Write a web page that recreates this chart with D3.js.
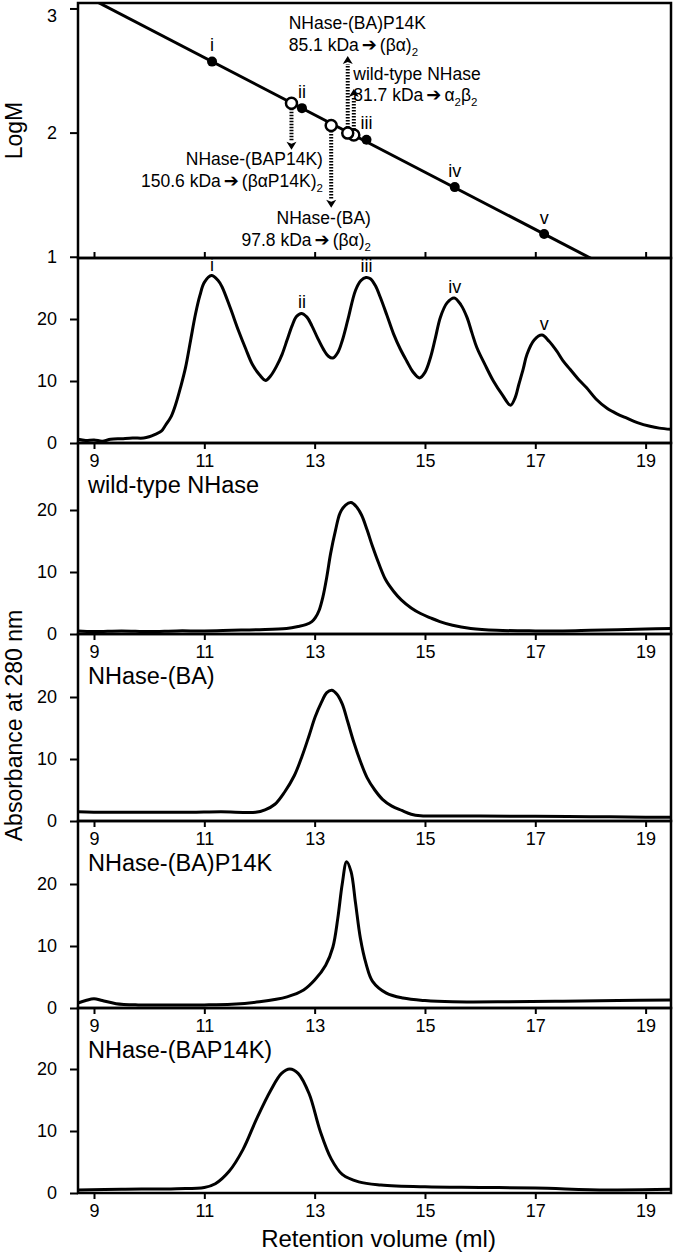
<!DOCTYPE html>
<html>
<head>
<meta charset="utf-8">
<script src="https://cdn.jsdelivr.net/npm/d3@7"></script>
<style>
  body { margin: 0; background: #fff; }
  svg { display: block; }
  text { font-family: "Liberation Sans", Arial, sans-serif; fill: #000; }
</style>
</head>
<body>
<svg id="chart" width="675" height="1256"></svg>
<script>
// ---- data ----
const xTicks = [9, 11, 13, 15, 17, 19];
const logMTicks = [1, 2, 3];
const absTicks = [0, 10, 20];

const standardNames = ["i", "ii", "iii", "iv", "v"];
const standardMl = [11.14, 12.77, 13.94, 15.54, 17.16];
const standardLogM = [2.572, 2.197, 1.942, 1.561, 1.183];
const standardPeakAbs = [27.0, 20.9, 26.7, 23.4, 17.4];

// calibration line end points
const fitMl = [9.0, 18.1];
const fitLogM = [3.066, 0.966];

// samples: BAP14K, BA, BA-P14K, wild-type
const sampleMl = [12.58, 13.30, 13.60, 13.71];
const sampleLogM = [2.237, 2.057, 1.996, 1.980];
const arrowTipLogM = [1.861, 1.394, 2.618, 2.352];

const panelNames = ["wild-type NHase", "NHase-(BA)", "NHase-(BA)P14K", "NHase-(BAP14K)"];

const standardsTrace = [[8.71,0.6],[8.85,0.4],[9.0,0.5],[9.15,0.3],[9.3,0.6],[9.5,0.7],[9.7,0.8],[9.9,0.8],[10.0,1.0],[10.11,1.4],[10.22,1.9],[10.3,2.9],[10.4,4.3],[10.48,6.2],[10.57,9.0],[10.66,12.2],[10.75,16.5],[10.84,20.8],[10.92,23.8],[11.0,25.9],[11.13,27.0],[11.25,26.2],[11.32,25.2],[11.47,21.8],[11.62,18.1],[11.75,15.2],[11.87,12.7],[12.0,11.0],[12.11,10.1],[12.2,10.8],[12.31,12.4],[12.41,14.3],[12.5,16.6],[12.59,18.9],[12.67,20.4],[12.76,20.9],[12.86,20.3],[12.95,18.9],[13.05,17.0],[13.16,15.1],[13.25,14.0],[13.33,13.7],[13.42,14.6],[13.5,16.5],[13.6,19.8],[13.74,24.6],[13.84,26.2],[13.93,26.7],[14.01,26.5],[14.1,25.4],[14.19,23.5],[14.31,20.6],[14.43,17.6],[14.55,15.2],[14.67,13.2],[14.78,11.5],[14.9,10.5],[15.0,11.4],[15.1,13.8],[15.19,17.0],[15.28,20.3],[15.4,22.6],[15.53,23.4],[15.65,22.3],[15.76,20.3],[15.85,17.8],[15.94,15.4],[16.09,12.6],[16.24,10.0],[16.4,7.8],[16.55,6.1],[16.63,7.2],[16.7,9.4],[16.78,11.9],[16.85,14.3],[16.98,16.6],[17.12,17.4],[17.25,16.4],[17.39,14.8],[17.5,13.3],[17.63,11.9],[17.78,10.3],[17.93,8.9],[18.1,7.1],[18.3,5.6],[18.48,4.7],[18.66,4.0],[18.85,3.3],[19.08,2.7],[19.25,2.4],[19.46,2.2]];

const wildTypeTrace = [[8.71,0.5],[9.0,0.4],[9.5,0.5],[10.0,0.4],[10.5,0.5],[11.0,0.5],[11.5,0.6],[12.0,0.7],[12.49,0.9],[12.7,1.2],[12.84,1.5],[12.95,2.0],[13.01,2.6],[13.08,3.8],[13.15,6.0],[13.22,9.2],[13.29,13.0],[13.38,16.8],[13.46,19.5],[13.56,20.8],[13.66,21.2],[13.75,20.6],[13.85,19.2],[13.95,16.8],[14.05,14.1],[14.17,11.2],[14.29,8.7],[14.43,6.9],[14.57,5.5],[14.75,4.2],[14.92,3.3],[15.1,2.6],[15.27,2.0],[15.5,1.4],[15.83,0.9],[16.3,0.6],[17.0,0.5],[17.5,0.5],[18.0,0.6],[18.5,0.7],[19.0,0.8],[19.46,0.9]];

const baTrace = [[8.71,1.5],[9.2,1.4],[9.7,1.4],[10.2,1.4],[10.75,1.4],[11.3,1.5],[11.93,1.4],[12.1,1.8],[12.28,2.7],[12.45,4.6],[12.63,7.3],[12.77,10.4],[12.9,13.8],[13.01,16.8],[13.12,19.1],[13.22,20.7],[13.31,21.1],[13.4,20.5],[13.5,18.9],[13.6,16.0],[13.71,12.7],[13.83,9.6],[13.95,7.0],[14.09,5.0],[14.23,3.5],[14.4,2.4],[14.58,1.7],[14.75,1.1],[14.92,0.85],[15.5,0.8],[16.0,0.8],[17.0,0.75],[18.0,0.7],[19.0,0.6],[19.46,0.6]];

const baP14kTrace = [[8.71,0.8],[8.85,1.2],[9.0,1.5],[9.15,1.2],[9.4,0.7],[9.8,0.5],[10.5,0.5],[11.0,0.5],[11.5,0.6],[12.0,1.0],[12.5,1.8],[12.8,2.9],[13.0,4.5],[13.2,6.9],[13.33,9.8],[13.42,14.5],[13.5,20.0],[13.58,23.6],[13.66,22.0],[13.74,17.0],[13.83,11.2],[13.93,7.2],[14.05,4.3],[14.3,2.4],[14.6,1.6],[15.0,1.2],[15.5,1.0],[16.5,1.0],[17.5,1.1],[18.5,1.2],[19.46,1.3]];

const bap14kTrace = [[8.71,0.5],[9.5,0.6],[10.5,0.7],[11.0,0.9],[11.2,1.5],[11.45,3.5],[11.7,7.0],[11.95,12.0],[12.2,16.5],[12.4,19.3],[12.55,20.0],[12.7,19.3],[12.9,16.0],[13.1,10.0],[13.3,5.5],[13.5,3.0],[13.8,1.8],[14.2,1.3],[15.0,1.0],[16.0,0.9],[17.0,0.8],[18.3,0.5],[19.46,0.6]];

// ---- layout ----
const svg = d3.select("#chart");
const left = 78, right = 671;
const edges = [3, 258, 443, 634, 821, 1008, 1193];
const pxPerAbs = 6.2;

const x = d3.scaleLinear().domain([8.71, 19.46]).range([left, right]);
const yLog = d3.scaleLinear().domain([0.99, 3.044]).range([edges[1], edges[0]]);

const styleAxis = g => {
    g.select(".domain").remove();
    g.selectAll(".tick line").attr("stroke", "#000").attr("stroke-width", 2);
    g.selectAll(".tick text").style("font-size", "18px").attr("fill", "#000")
        .style("font-family", '"Liberation Sans", Arial, sans-serif');
};

const frame = (top, bottom) => {
    svg.append("rect")
        .attr("x", left).attr("y", top)
        .attr("width", right - left).attr("height", bottom - top)
        .attr("fill", "none").attr("stroke", "#000").attr("stroke-width", 2.5);
};

// ---- top panel: LogM calibration ----
svg.append("defs").append("clipPath").attr("id", "topClip")
    .append("rect").attr("x", left).attr("y", edges[0])
    .attr("width", right - left).attr("height", edges[1] - edges[0]);

const logAxis = svg.append("g").attr("transform", `translate(${left},0)`)
    .call(d3.axisLeft(yLog).tickValues(logMTicks).tickSize(8).tickPadding(13).tickFormat(d3.format("d")))
    .call(styleAxis);
// the top label sits a little under its tick, as in the figure
logAxis.selectAll(".tick").filter(d => d === 3).select("text").attr("dy", "0.72em");

svg.append("g").attr("transform", `translate(0,${edges[1]})`)
    .call(d3.axisBottom(x).tickValues(xTicks).tickSize(-6).tickFormat(""))
    .call(styleAxis);

svg.append("line").attr("clip-path", "url(#topClip)")
    .attr("x1", x(fitMl[0])).attr("y1", yLog(fitLogM[0]))
    .attr("x2", x(fitMl[1])).attr("y2", yLog(fitLogM[1]))
    .attr("stroke", "#000").attr("stroke-width", 3);

const rOpen = 5.5;
sampleMl.forEach((ml, i) => {
    const down = arrowTipLogM[i] < sampleLogM[i];
    const y0 = yLog(sampleLogM[i]) + (down ? rOpen : -rOpen);
    const y1 = yLog(arrowTipLogM[i]) + (down ? -8 : 8);
    svg.append("line")
        .attr("x1", x(ml)).attr("x2", x(ml)).attr("y1", y0).attr("y2", y1)
        .attr("stroke", "#000").attr("stroke-width", 4).attr("stroke-dasharray", "1.5,1.5");
    svg.append("path")
        .attr("d", d3.line()([[x(ml) - 5, y1], [x(ml), yLog(arrowTipLogM[i])], [x(ml) + 5, y1], [x(ml), y1 + (down ? 2 : -2)]]) + "Z")
        .attr("fill", "#000");
});

svg.selectAll(".sample")
    .data(sampleMl.map((ml, i) => ({ ml, logM: sampleLogM[i] })).reverse())
    .enter().append("circle")
    .attr("cx", d => x(d.ml)).attr("cy", d => yLog(d.logM)).attr("r", rOpen)
    .attr("fill", "#fff").attr("stroke", "#000").attr("stroke-width", 2.5);

svg.selectAll(".std")
    .data(standardMl.map((ml, i) => ({ ml, logM: standardLogM[i], name: standardNames[i] })))
    .enter().append("circle")
    .attr("cx", d => x(d.ml)).attr("cy", d => yLog(d.logM)).attr("r", 5).attr("fill", "#000");

svg.selectAll(".stdLabel")
    .data(standardMl.map((ml, i) => ({ ml, logM: standardLogM[i], name: standardNames[i] })))
    .enter().append("text")
    .attr("x", d => x(d.ml)).attr("y", d => yLog(d.logM) - 10.5)
    .attr("text-anchor", "middle").style("font-size", "18px").text(d => d.name);

// annotations: name line, then "mass kDa -> formula" line
const annotate = (ml, logM, anchor, title, mass, formula) => {
    const t = svg.append("text").attr("x", x(ml)).attr("y", yLog(logM))
        .attr("text-anchor", anchor).style("font-size", "17.5px");
    t.append("tspan").text(title);
    const t2 = svg.append("text").attr("x", x(ml)).attr("y", yLog(logM) + 21.5)
        .attr("text-anchor", anchor).style("font-size", "17.5px");
    t2.append("tspan").text(mass + " kDa");
    t2.append("tspan").attr("dx", 3).style("font-family", '"DejaVu Sans"').style("font-size", "18px").text("\u2794");
    let first = true, low = false;
    formula.forEach(([s, sub]) => {
        const sp = t2.append("tspan").text(s);
        if (first) { sp.attr("dx", 3); first = false; }
        if (sub) { sp.attr("dy", 5).style("font-size", "11.5px"); low = true; }
        else if (low) { sp.attr("dy", -5); low = false; }
    });
};
annotate(13.15, 1.739, "end", "NHase-(BAP14K)", "150.6", [["(\u03b2\u03b1P14K)"], ["2", true]]);
annotate(14.02, 1.261, "end", "NHase-(BA)", "97.8", [["(\u03b2\u03b1)"], ["2", true]]);
annotate(12.53, 2.832, "start", "NHase-(BA)P14K", "85.1", [["(\u03b2\u03b1)"], ["2", true]]);
annotate(13.70, 2.424, "start", "wild-type NHase", "81.7", [["\u03b1"], ["2", true], ["\u03b2"], ["2", true]]);

frame(edges[0], edges[1]);

// ---- chromatogram panels ----
const traces = [standardsTrace, wildTypeTrace, baTrace, baP14kTrace, bap14kTrace];
const line = d3.line().x(d => x(d[0])).curve(d3.curveCatmullRom.alpha(0.5));

traces.forEach((trace, i) => {
    const top = edges[i + 1], bottom = edges[i + 2];
    const y = d3.scaleLinear().domain([0, (bottom - top) / pxPerAbs]).range([bottom, top]);

    svg.append("g").attr("transform", `translate(${left},0)`)
        .call(d3.axisLeft(y).tickValues(absTicks).tickSize(8).tickPadding(13))
        .call(styleAxis);
    svg.append("g").attr("transform", `translate(0,${bottom})`)
        .call(d3.axisBottom(x).tickValues(xTicks).tickSize(6).tickPadding(5))
        .call(styleAxis);

    svg.append("path").datum(trace)
        .attr("d", line.y(d => y(d[1])))
        .attr("fill", "none").attr("stroke", "#000").attr("stroke-width", 3)
        .attr("stroke-linejoin", "round");

    if (i === 0) {
        svg.selectAll(".peakLabel")
            .data(standardMl.map((ml, k) => ({ ml, v: standardPeakAbs[k], name: standardNames[k] })))
            .enter().append("text")
            .attr("x", d => x(d.ml)).attr("y", d => y(d.v) - 5)
            .attr("text-anchor", "middle").style("font-size", "18px").text(d => d.name);
    } else {
        svg.append("text").attr("x", 88).attr("y", top + 50)
            .style("font-size", "23.5px").text(panelNames[i - 1]);
    }
    frame(top, bottom);
});

// ---- axis titles ----
svg.append("text").attr("transform", `translate(22,${(edges[0] + edges[1]) / 2}) rotate(-90)`)
    .attr("text-anchor", "middle").style("font-size", "23px").text("LogM");
svg.append("text").attr("transform", `translate(22,${(edges[1] + edges[6]) / 2}) rotate(-90)`)
    .attr("text-anchor", "middle").style("font-size", "23px").text("Absorbance at 280 nm");
svg.append("text").attr("x", (left + right) / 2 + 4).attr("y", 1247)
    .attr("text-anchor", "middle").style("font-size", "24px").text("Retention volume (ml)");
</script>
</body>
</html>
